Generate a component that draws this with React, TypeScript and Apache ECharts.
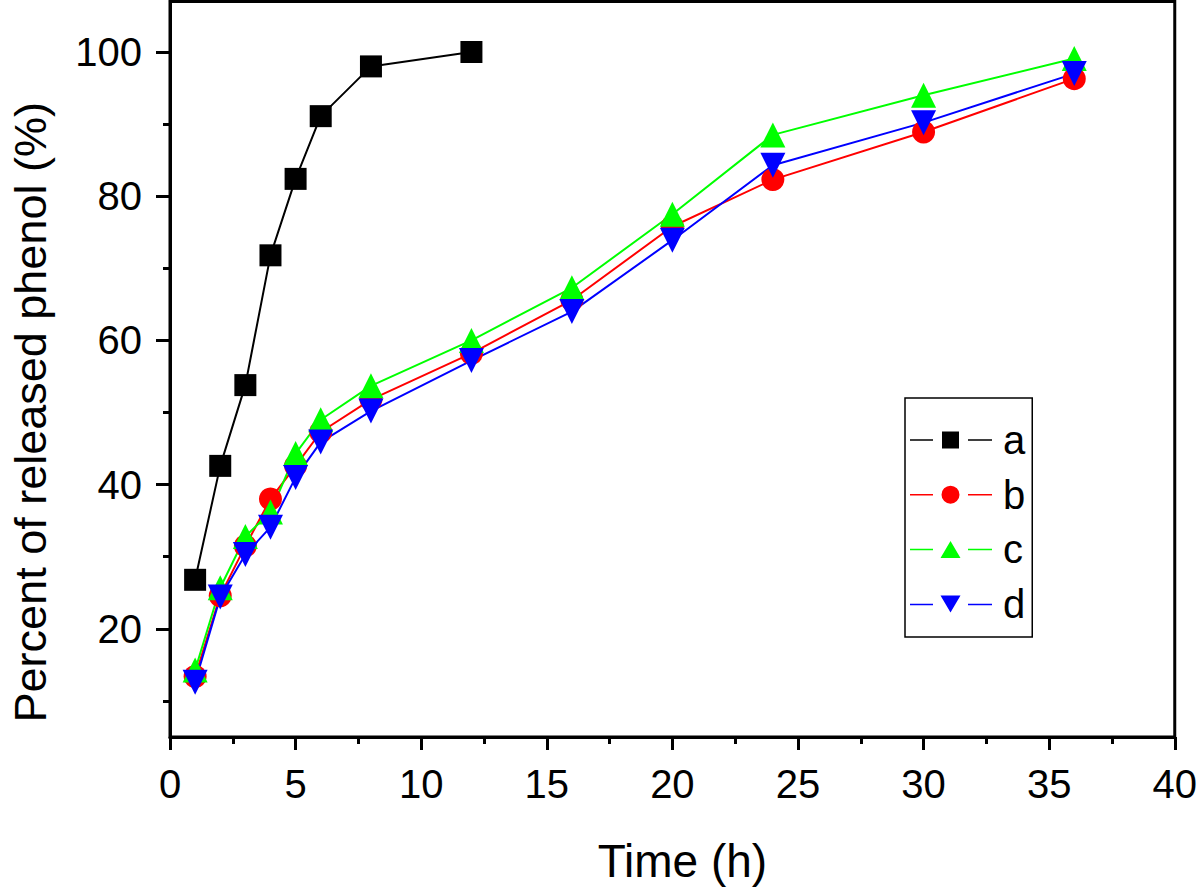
import React, { useEffect, useRef } from "react";
import * as echarts from "echarts";

const timeA = [1, 2, 3, 4, 5, 6, 8, 12];
const seriesA = [26.8, 42.6, 53.8, 71.8, 82.4, 91.1, 98.0, 100.0];
const timeBCD = [1, 2, 3, 4, 5, 6, 8, 12, 16, 20, 24, 30, 36];
const seriesB = [13.4, 24.6, 31.5, 38.0, 42.6, 47.3, 51.8, 58.2, 65.6, 75.8, 82.3, 88.9, 96.3];
const seriesC = [14.3, 25.7, 32.8, 36.2, 44.3, 49.0, 53.7, 60.0, 67.3, 77.5, 88.5, 94.0, 99.1];
const seriesD = [12.6, 24.4, 30.3, 34.1, 41.0, 45.9, 50.2, 57.2, 64.0, 73.9, 84.3, 90.2, 97.0];
const seriesNames = ["a", "b", "c", "d"];
const yMajorTicks = [20, 40, 60, 80, 100];
const yMinorTicks = [10, 30, 50, 70, 90];

const FONT = "'Liberation Sans', Arial, Helvetica, sans-serif";

const pair = (xs: number[], ys: number[]) => xs.map((x, i) => [x, ys[i]]);

const icons = [
  "path://M0,8.25h23v1.5h-23z M32,0.5h17v17h-17z M58,8.25h24v1.5h-24z",
  "path://M0,8.25h23v1.5h-23z M49.5,9a9,9 0 1,0 -18,0a9,9 0 1,0 18,0z M58,8.25h24v1.5h-24z",
  "path://M0,8.75h23v1.5h-23z M30.5,18L40.5,1L50.5,18z M58,8.75h24v1.5h-24z",
  "path://M0,8.25h23v1.5h-23z M30.5,0L50.5,0L40.5,17z M58,8.25h24v1.5h-24z",
];

export default function App() {
  const ref = useRef<HTMLDivElement>(null);
  useEffect(() => {
    if (!ref.current) return;
    const chart = echarts.init(ref.current, null, { renderer: "svg" });
    const mk = (name: string, data: number[][], color: string, symbol: string, size: number) => ({
      name,
      type: "line",
      data,
      color,
      symbol,
      symbolSize: size,
      lineStyle: { color, width: 2 },
      itemStyle: { color },
      z: 3,
    });
    chart.setOption({
      animation: false,
      backgroundColor: "#fff",
      textStyle: { fontFamily: FONT },
      grid: {
        left: 169,
        right: 25,
        top: 1.5,
        bottom: 154,
        show: true,
        borderColor: "#000",
        borderWidth: 3,
        backgroundColor: "transparent",
      },
      legend: {
        left: 905,
        top: 398,
        orient: "vertical",
        backgroundColor: "#fff",
        borderColor: "#000",
        borderWidth: 1.5,
        padding: [22, 7, 13, 5],
        itemWidth: 82,
        itemHeight: 18,
        itemGap: 14.7,
        itemStyle: { borderWidth: 0 },
        textStyle: { fontSize: 40, color: "#000", fontFamily: FONT, padding: [0, 0, 0, 6] },
        data: seriesNames.map((n, i) => ({ name: n, icon: icons[i] })),
      },
      xAxis: {
        type: "value",
        min: 0,
        max: 40,
        interval: 5,
        name: "Time (h)",
        nameLocation: "middle",
        nameGap: 101,
        nameMoveOverlap: false,
        nameTextStyle: { fontSize: 46, color: "#000", fontFamily: FONT, padding: [0, 0, 0, 20] },
        axisLine: { show: true, lineStyle: { color: "#000", width: 3 } },
        axisTick: { show: true, inside: false, length: 13, lineStyle: { color: "#000", width: 3 } },
        minorTick: { show: true, splitNumber: 2, length: 7, lineStyle: { color: "#000", width: 3 } },
        axisLabel: { fontSize: 40, color: "#000", margin: 27, fontFamily: FONT },
        splitLine: { show: false },
      },
      yAxis: [
        {
          type: "value",
          min: 5,
          max: 107,
          name: "Percent of released phenol (%)",
          nameLocation: "middle",
          nameGap: 117,
          nameMoveOverlap: false,
          nameTextStyle: { fontSize: 45, color: "#000", fontFamily: FONT, padding: [0, 86, 0, 0] },
          axisLine: { show: true, lineStyle: { color: "#000", width: 3 } },
          axisTick: { show: true, inside: false, length: 14, customValues: yMajorTicks, lineStyle: { color: "#000", width: 3 } },
          axisLabel: { fontSize: 40, color: "#000", margin: 28, customValues: yMajorTicks, fontFamily: FONT },
          splitLine: { show: false },
        },
        {
          type: "value",
          min: 5,
          max: 107,
          position: "left",
          axisLine: { show: false },
          axisTick: { show: true, inside: false, length: 7, customValues: yMinorTicks, lineStyle: { color: "#000", width: 3 } },
          axisLabel: { show: false },
          splitLine: { show: false },
        },
      ],
      series: [
        mk("a", pair(timeA, seriesA), "#000000", "rect", 22),
        mk("b", pair(timeBCD, seriesB), "#ff0000", "circle", 23),
        mk("c", pair(timeBCD, seriesC), "#00ff00", "triangle", 25),
        { ...mk("d", pair(timeBCD, seriesD), "#0000ff", "triangle", 25), symbolRotate: 180 },
      ],
    });
    return () => chart.dispose();
  }, []);
  return <div ref={ref} style={{ width: 1200, height: 891, position: "absolute", left: 0, top: 0 }} />;
}
